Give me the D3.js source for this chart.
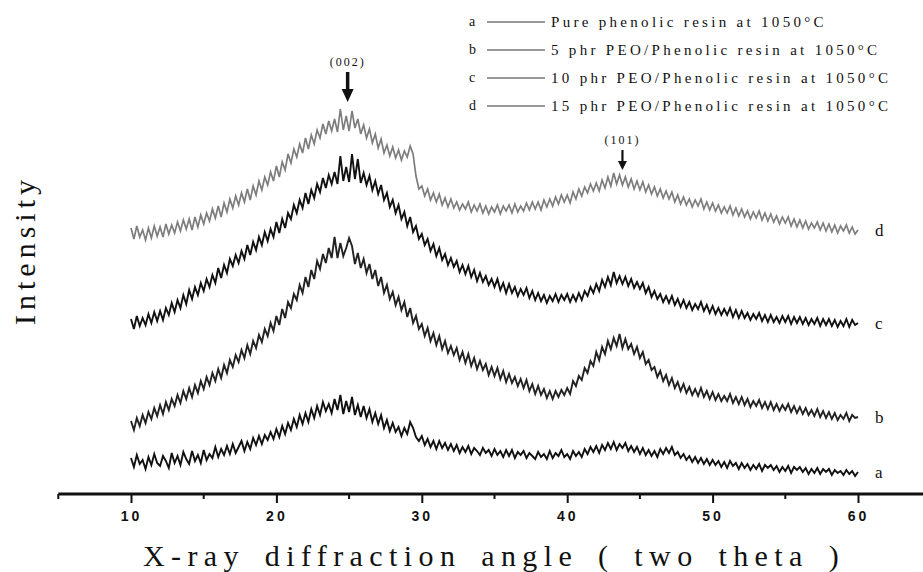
<!DOCTYPE html>
<html><head><meta charset="utf-8">
<script src="https://cdn.jsdelivr.net/npm/d3@7"></script>
<style>body{margin:0;background:#fff}svg{display:block}</style>
</head><body>
<svg id="chart" width="923" height="572"></svg>
<script>
// Diffraction angle grid: 10° to 60°, every 0.2°
const angleStart = 10, angleStep = 0.2;
// Intensity (a.u., curves offset vertically as in the figure)
const seriesA = [
36,27,39,30,34, 25,37,29,40,31, 28,38,33,26,41, 31,38,29,42,35, 30,43,33,39,31,
44,34,40,36,47, 37,45,39,48,40, 50,41,47,53,43, 52,45,56,49,58, 50,59,54,62,55,
65,57,68,60,71, 64,75,67,79,70, 81,72,85,76,88, 79,92,83,90,81, 95,84,99,80,93,
82,97,79,89,77, 88,76,85,72,81, 70,79,66,74,63, 71,62,67,58,66, 60,72,66,57,53,
58,49,55,47,53, 45,53,46,51,44, 50,43,49,41,47, 42,48,40,46,43, 39,46,41,44,38,
45,39,43,37,44, 38,44,36,42,39, 43,36,41,38,35, 42,37,40,35,43, 36,41,38,44,37,
40,35,43,38,42, 37,45,40,47,42, 48,41,49,44,51, 45,52,44,50,46, 51,43,48,42,47,
40,46,39,44,38, 43,37,45,40,46, 41,47,39,42,36, 40,34,38,32,37, 31,36,30,35,29,
34,29,33,27,32, 26,33,28,31,25, 31,26,30,24,29, 25,30,23,29,26, 29,24,28,22,27,
23,28,21,27,24, 27,22,26,20,25, 21,26,20,25,22, 25,19,24,21,23, 19,24,20,23,18,
22];
const seriesB = [
73,64,76,68,79, 71,82,75,86,78, 89,80,92,84,95, 88,99,91,103,95, 106,97,109,101,113,
105,117,109,121,113, 125,116,129,121,134, 127,139,132,144,136, 149,140,153,146,159, 152,165,158,171,163,
178,169,185,176,192, 186,200,194,209,201, 217,207,224,215,233, 225,240,231,246,236, 257,236,251,238,246,
256,248,230,241,226, 235,221,230,215,224, 208,217,201,209,195, 202,189,197,184,192, 177,186,171,178,165,
170,158,166,153,161, 149,158,145,153,141, 148,139,146,134,142, 131,140,128,136,125, 133,124,130,119,127,
118,126,115,123,112, 120,111,117,108,115, 106,114,103,110,100, 108,99,105,96,103, 95,103,97,104,99,
106,100,113,108,118, 114,126,121,133,128, 142,134,147,140,153, 145,156,148,160,146, 155,145,150,140,147,
136,142,130,134,124, 127,117,123,113,119, 109,116,106,112,103, 110,101,107,99,105, 98,106,97,103,95,
102,94,100,93,98, 93,100,91,97,90, 97,89,95,87,93, 88,94,86,92,85, 92,84,90,83,89,
84,90,82,88,81, 87,80,86,79,84, 78,85,77,83,76, 82,75,81,74,79, 75,81,73,79,76,
77];
const seriesC = [
175,165,178,168,176, 169,180,171,182,173, 183,174,186,179,191, 182,194,186,199,190, 204,195,207,199,211,
203,215,207,219,211, 226,216,229,221,235, 228,239,231,243,235, 249,239,252,244,257, 249,262,253,265,257,
272,261,275,266,281, 275,289,281,294,286, 301,290,304,296,310, 302,316,306,319,310, 322,310,338,313,327,
312,340,315,335,311, 321,309,318,304,313, 300,309,294,301,287, 294,281,289,275,282, 268,277,262,268,255,
260,249,255,243,250, 238,246,234,240,229, 236,227,233,222,229, 220,228,217,224,213, 221,212,218,209,215,
207,215,204,211,201, 210,201,207,198,205, 199,206,196,203,194, 201,193,199,191,198, 193,200,192,199,194,
200,192,199,193,201, 194,203,198,207,201, 210,203,214,207,217, 209,222,211,218,210, 217,208,215,206,212,
205,211,201,207,197, 203,195,200,192,198, 191,198,189,195,187, 194,186,192,184,190, 185,192,183,189,181,
188,180,186,179,185, 179,186,177,184,176, 183,176,181,174,180, 175,181,173,179,172, 179,172,177,171,178,
172,178,170,177,171, 177,170,176,169,175, 170,176,168,175,169, 175,168,174,167,173, 168,175,167,174,169,
171];
const seriesD = [
266,255,268,257,264, 254,266,256,268,258, 267,257,270,260,269, 261,272,263,274,265, 275,264,277,267,279,
270,281,273,285,276, 288,277,291,282,295, 286,298,289,301,292, 305,294,308,299,313, 304,317,309,322,313,
328,317,332,324,340, 331,345,337,350,341, 356,345,359,350,364, 356,370,360,373,363, 375,362,385,364,378,
363,383,366,375,360, 369,356,365,351,360, 346,355,341,349,338, 347,336,344,334,343, 337,348,340,318,305,
308,298,305,294,301, 292,300,289,296,287, 295,286,292,284,290, 285,292,282,289,283, 290,281,288,280,287,
282,289,280,288,283, 289,281,290,282,288, 283,291,284,292,285, 292,284,294,287,295, 288,297,290,299,292,
299,291,302,295,305, 298,307,301,310,303, 311,303,314,306,317, 308,321,310,319,309, 317,307,315,305,313,
304,312,302,309,300, 307,298,305,296,303, 295,302,292,299,290, 297,289,295,287,294, 288,295,285,292,284,
291,283,289,281,287, 281,288,279,286,278, 285,277,283,275,282, 276,283,274,281,273, 280,272,278,270,277,
271,277,268,275,267, 274,266,273,265,271, 266,272,264,271,263, 270,262,269,261,268, 263,269,261,267,260,
264];
const curveLetters = ["a","b","c","d"];
const legendLabels = [
  "Pure phenolic resin at 1050°C",
  "5 phr PEO/Phenolic resin at 1050°C",
  "10 phr PEO/Phenolic resin at 1050°C",
  "15 phr PEO/Phenolic resin at 1050°C"
];
const curveColors = ["#111","#222","#111","#7d7d7d"];
const majorTicks = [10,20,30,40,50,60];
const minorTicks = [5,15,25,35,45,55,65];
const peakLabels = ["(002)","(101)"];
const peakAngles = [24.9, 43.8];
const peakTips = [392, 324];

const svg = d3.select("#chart");
const x = d3.scaleLinear().domain([5, 65]).range([58.3, 930.7]);
const y = d3.scaleLinear().domain([0, 400]).range([494, 94]);

const allSeries = [seriesA, seriesB, seriesC, seriesD];
const line = d3.line()
  .x((d, i) => x(angleStart + i * angleStep))
  .y(d => y(d));

allSeries.forEach((s, k) => {
  svg.append("path").datum(s)
    .attr("d", line)
    .attr("fill", "none")
    .attr("stroke", curveColors[k])
    .attr("stroke-width", k === 3 ? 1.7 : 1.9)
    .attr("stroke-linejoin", "miter");
  const last = s[s.length - 1];
  svg.append("text")
    .attr("x", x(60) + 17)
    .attr("y", y(last) + 6)
    .attr("font-family", "Liberation Serif, Times New Roman, serif")
    .attr("font-size", 17)
    .attr("fill", "#111")
    .text(curveLetters[k]);
});

// x axis
const axisG = svg.append("g").attr("transform", `translate(0,${y(0)})`);
axisG.call(d3.axisBottom(x).tickValues(majorTicks).tickSize(9).tickFormat(d3.format("d")));
axisG.select(".domain").remove();
axisG.selectAll(".tick line").attr("stroke", "#111").attr("stroke-width", 2);
axisG.selectAll(".tick text")
  .attr("font-family", "Liberation Sans, Arial, sans-serif")
  .attr("font-size", 14).attr("font-weight", "bold")
  .attr("letter-spacing", 3).attr("fill", "#111")
  .attr("dy", "1.05em");
axisG.selectAll(".minor").data(minorTicks).enter().append("line")
  .attr("class", "minor")
  .attr("x1", d => x(d)).attr("x2", d => x(d))
  .attr("y1", 0).attr("y2", 5)
  .attr("stroke", "#111").attr("stroke-width", 2);
axisG.append("line")
  .attr("x1", x(5)).attr("x2", 923).attr("y1", 0).attr("y2", 0)
  .attr("stroke", "#111").attr("stroke-width", 3);

svg.append("text")
  .attr("x", 494).attr("y", 566)
  .attr("text-anchor", "middle")
  .attr("font-family", "Liberation Serif, Times New Roman, serif")
  .attr("font-size", 30).attr("letter-spacing", 6.4).attr("word-spacing", 6)
  .attr("fill", "#111")
  .text("X-ray diffraction angle ( two theta )");

svg.append("text")
  .attr("transform", "translate(35,250) rotate(-90)")
  .attr("text-anchor", "middle")
  .attr("font-family", "Liberation Serif, Times New Roman, serif")
  .attr("font-size", 30).attr("letter-spacing", 5)
  .attr("fill", "#111")
  .text("Intensity");

// legend
const leg = svg.append("g");
legendLabels.forEach((lab, k) => {
  const yy = 22 + k * 28;
  leg.append("text").attr("x", 469).attr("y", yy + 4)
    .attr("font-family", "Liberation Serif, Times New Roman, serif")
    .attr("font-size", 14).attr("fill", "#111").text(curveLetters[k]);
  leg.append("line").attr("x1", 487).attr("x2", 545).attr("y1", yy).attr("y2", yy)
    .attr("stroke", "#333").attr("stroke-width", 1);
  leg.append("text").attr("x", 551).attr("y", yy + 5)
    .attr("font-family", "Liberation Serif, Times New Roman, serif")
    .attr("font-size", 15).attr("letter-spacing", 3.3).attr("fill", "#111").text(lab);
});

// peak markers
peakLabels.forEach((lab, k) => {
  const px = x(peakAngles[k]);
  const tip = y(peakTips[k]);
  const big = k === 0;
  const len = big ? 30 : 20;
  const hw = big ? 6 : 4.5, hl = big ? 13 : 9;
  svg.append("line").attr("x1", px).attr("x2", px)
    .attr("y1", tip - len).attr("y2", tip - hl + 1)
    .attr("stroke", "#111").attr("stroke-width", big ? 3.5 : 2.2);
  svg.append("path")
    .attr("d", `M${px - hw},${tip - hl} L${px + hw},${tip - hl} L${px},${tip} Z`)
    .attr("fill", "#111");
  svg.append("text").attr("x", px).attr("y", tip - len - 6)
    .attr("text-anchor", "middle")
    .attr("font-family", "Liberation Serif, Times New Roman, serif")
    .attr("font-size", 12).attr("letter-spacing", 2).attr("fill", "#111")
    .text(lab);
});
</script>
</body></html>
